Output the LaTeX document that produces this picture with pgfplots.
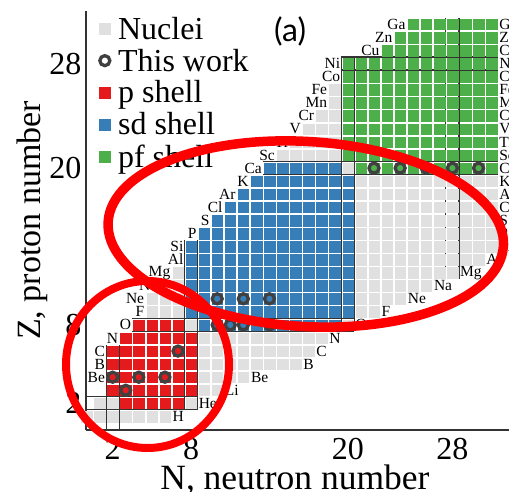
\documentclass[border=0pt]{standalone}
\usepackage{pgfplots}
\pgfplotsset{compat=1.18}
\usepackage{fontspec}
\setmainfont{Liberation Serif}
\newfontfamily\afont{Lato}
\definecolor{cgray}{HTML}{E0E0E0}
\definecolor{cred}{HTML}{E41A1C}
\definecolor{cblue}{HTML}{377EB8}
\definecolor{cgreen}{HTML}{4DAF4A}
\definecolor{cline}{HTML}{333333}
\definecolor{ccirc}{HTML}{404040}
\newcommand{\el}[3]{\node[anchor=east,inner sep=1pt,font=\fontsize{15.5}{16}\selectfont] at (axis cs:#1-0.5,#2) {#3};}
\newcommand{\er}[3]{\node[anchor=west,inner sep=1pt,font=\fontsize{15.5}{16}\selectfont] at (axis cs:#1+0.5,#2) {#3};}
\pgfplotsset{
  cell/.style={only marks,mark=square*,mark size=5.25pt,mark options={draw=#1,fill=#1,line width=0.2pt}},
  circ/.style={only marks,mark=o,mark size=5pt,mark options={draw=ccirc,line width=3.3pt,fill=none}},
}
\begin{document}
\begin{tikzpicture}[x=1pt,y=1pt]
\path[use as bounding box] (0,0) rectangle (509,492);
\begin{axis}[
  at={(86pt,62pt)},anchor=south west,
  scale only axis,width=423pt,height=419pt,
  xmin=-0.04,xmax=32.33,ymin=-0.04,ymax=32.02,
  axis x line*=bottom,axis y line*=left,
  axis line style={draw=cline,line width=1.1pt,-},
  xtick={2,8,20,28},ytick={2,8,20,28},
  major tick length=0pt,
  /pgf/number format/assume math mode=true,
  tick label style={font=\fontsize{32}{32}\selectfont},
  xticklabel style={yshift=-5pt},
  yticklabel style={xshift=-1pt},
  xlabel={N, neutron number},ylabel={Z, proton number},
  every axis x label/.style={at={(axis description cs:0.494,-0.119)},anchor=center,font=\fontsize{35.5}{36}\selectfont},
  every axis y label/.style={at={(axis description cs:-0.128,0.5)},anchor=center,rotate=90,font=\fontsize{34}{34}\selectfont},
  legend style={at={(axis cs:1.0,31.72)},anchor=north west,draw=none,fill=none,inner sep=0pt,outer sep=0pt,
    font=\fontsize{32}{32}\selectfont,row sep=4.2pt,
    /tikz/column 1/.style={column sep=6pt}},
  legend cell align=left,
  legend image code/.code={\draw[#1] plot coordinates {(0.3cm,0cm)};},
]
\addlegendimage{cell=cgray}
\addlegendentry{Nuclei}
\addlegendimage{circ}
\addlegendentry{This work}
\addlegendimage{cell=cred}
\addlegendentry{p shell}
\addlegendimage{cell=cblue}
\addlegendentry{sd shell}
\addlegendimage{cell=cgreen}
\addlegendentry{pf shell}

% Nuclei
\addplot[forget plot,cell=cgray] coordinates {
(0,1)(1,1)(2,1)(3,1)(4,1)(5,1)(6,1)
(1,2)(2,2)(8,2)
(9,3)(10,3)
(9,4)(10,4)(11,4)(12,4)
(9,5)(10,5)(11,5)(12,5)(13,5)(14,5)(15,5)(16,5)
(9,6)(10,6)(11,6)(12,6)(13,6)(14,6)(15,6)(16,6)(17,6)
(9,7)(10,7)(11,7)(12,7)(13,7)(14,7)(15,7)(16,7)(17,7)(18,7)
(8,8)(20,8)
(5,9)(6,9)(7,9)(21,9)(22,9)
(5,10)(6,10)(7,10)(21,10)(22,10)(23,10)(24,10)
(6,11)(7,11)(21,11)(22,11)(23,11)(24,11)(25,11)(26,11)
(7,12)(21,12)(22,12)(23,12)(24,12)(25,12)(26,12)(27,12)(28,12)
(21,13)(22,13)(23,13)(24,13)(25,13)(26,13)(27,13)(28,13)(29,13)(30,13)
(21,14)(22,14)(23,14)(24,14)(25,14)(26,14)(27,14)(28,14)(29,14)(30,14)(31,14)
(21,15)(22,15)(23,15)(24,15)(25,15)(26,15)(27,15)(28,15)(29,15)(30,15)(31,15)
(21,16)(22,16)(23,16)(24,16)(25,16)(26,16)(27,16)(28,16)(29,16)(30,16)(31,16)
(21,17)(22,17)(23,17)(24,17)(25,17)(26,17)(27,17)(28,17)(29,17)(30,17)(31,17)
(21,18)(22,18)(23,18)(24,18)(25,18)(26,18)(27,18)(28,18)(29,18)(30,18)(31,18)
(21,19)(22,19)(23,19)(24,19)(25,19)(26,19)(27,19)(28,19)(29,19)(30,19)(31,19)
(20,20)
(15,21)(16,21)(17,21)(18,21)(19,21)
(16,22)(17,22)(18,22)(19,22)
(17,23)(18,23)(19,23)
(18,24)(19,24)
(19,25)
(19,26)
};
% p shell
\addplot[forget plot,cell=cred] coordinates {
(3,2)(4,2)(5,2)(6,2)(7,2)
(2,3)(3,3)(4,3)(5,3)(6,3)(7,3)(8,3)
(2,4)(3,4)(4,4)(5,4)(6,4)(7,4)(8,4)
(2,5)(3,5)(4,5)(5,5)(6,5)(7,5)(8,5)
(2,6)(3,6)(4,6)(5,6)(6,6)(7,6)(8,6)
(3,7)(4,7)(5,7)(6,7)(7,7)(8,7)
(4,8)(5,8)(6,8)(7,8)
};
% sd shell
\addplot[forget plot,cell=cblue] coordinates {
(9,8)(10,8)(11,8)(12,8)(13,8)(14,8)(15,8)(16,8)(17,8)(18,8)(19,8)
(8,9)(9,9)(10,9)(11,9)(12,9)(13,9)(14,9)(15,9)(16,9)(17,9)(18,9)(19,9)(20,9)
(8,10)(9,10)(10,10)(11,10)(12,10)(13,10)(14,10)(15,10)(16,10)(17,10)(18,10)(19,10)(20,10)
(8,11)(9,11)(10,11)(11,11)(12,11)(13,11)(14,11)(15,11)(16,11)(17,11)(18,11)(19,11)(20,11)
(8,12)(9,12)(10,12)(11,12)(12,12)(13,12)(14,12)(15,12)(16,12)(17,12)(18,12)(19,12)(20,12)
(8,13)(9,13)(10,13)(11,13)(12,13)(13,13)(14,13)(15,13)(16,13)(17,13)(18,13)(19,13)(20,13)
(8,14)(9,14)(10,14)(11,14)(12,14)(13,14)(14,14)(15,14)(16,14)(17,14)(18,14)(19,14)(20,14)
(9,15)(10,15)(11,15)(12,15)(13,15)(14,15)(15,15)(16,15)(17,15)(18,15)(19,15)(20,15)
(10,16)(11,16)(12,16)(13,16)(14,16)(15,16)(16,16)(17,16)(18,16)(19,16)(20,16)
(11,17)(12,17)(13,17)(14,17)(15,17)(16,17)(17,17)(18,17)(19,17)(20,17)
(12,18)(13,18)(14,18)(15,18)(16,18)(17,18)(18,18)(19,18)(20,18)
(13,19)(14,19)(15,19)(16,19)(17,19)(18,19)(19,19)(20,19)
(14,20)(15,20)(16,20)(17,20)(18,20)(19,20)
};
% pf shell
\addplot[forget plot,cell=cgreen] coordinates {
(21,20)(22,20)(23,20)(24,20)(25,20)(26,20)(27,20)(28,20)(29,20)(30,20)(31,20)
(20,21)(21,21)(22,21)(23,21)(24,21)(25,21)(26,21)(27,21)(28,21)(29,21)(30,21)(31,21)
(20,22)(21,22)(22,22)(23,22)(24,22)(25,22)(26,22)(27,22)(28,22)(29,22)(30,22)(31,22)
(20,23)(21,23)(22,23)(23,23)(24,23)(25,23)(26,23)(27,23)(28,23)(29,23)(30,23)(31,23)
(20,24)(21,24)(22,24)(23,24)(24,24)(25,24)(26,24)(27,24)(28,24)(29,24)(30,24)(31,24)
(20,25)(21,25)(22,25)(23,25)(24,25)(25,25)(26,25)(27,25)(28,25)(29,25)(30,25)(31,25)
(20,26)(21,26)(22,26)(23,26)(24,26)(25,26)(26,26)(27,26)(28,26)(29,26)(30,26)(31,26)
(20,27)(21,27)(22,27)(23,27)(24,27)(25,27)(26,27)(27,27)(28,27)(29,27)(30,27)(31,27)
(20,28)(21,28)(22,28)(23,28)(24,28)(25,28)(26,28)(27,28)(28,28)(29,28)(30,28)(31,28)
(23,29)(24,29)(25,29)(26,29)(27,29)(28,29)(29,29)(30,29)(31,29)
(24,30)(25,30)(26,30)(27,30)(28,30)(29,30)(30,30)(31,30)
(25,31)(26,31)(27,31)(28,31)(29,31)(30,31)(31,31)
};
% magic-number lines
\pgfplotsset{magic/.style={forget plot,draw=cline,line width=1.2pt}}
\addplot[magic] coordinates {(1.5,-0.04)(1.5,6.5)};
\addplot[magic] coordinates {(2.5,-0.04)(2.5,6.5)};
\addplot[magic] coordinates {(7.5,1.5)(7.5,14.5)};
\addplot[magic] coordinates {(8.5,1.5)(8.5,14.5)};
\addplot[magic] coordinates {(19.5,7.5)(19.5,28.5)};
\addplot[magic] coordinates {(20.5,7.5)(20.5,28.5)};
\addplot[magic] coordinates {(27.5,11.5)(27.5,31.5)};
\addplot[magic] coordinates {(28.5,11.5)(28.5,31.5)};
\addplot[magic] coordinates {(-0.04,1.5)(8.5,1.5)};
\addplot[magic] coordinates {(-0.04,2.5)(8.5,2.5)};
\addplot[magic] coordinates {(3.5,7.5)(20.5,7.5)};
\addplot[magic] coordinates {(3.5,8.5)(20.5,8.5)};
\addplot[magic] coordinates {(13.5,19.5)(31.5,19.5)};
\addplot[magic] coordinates {(13.5,20.5)(31.5,20.5)};
\addplot[magic] coordinates {(19.5,27.5)(31.5,27.5)};
\addplot[magic] coordinates {(19.5,28.5)(31.5,28.5)};
% This work
\addplot[forget plot,circ] coordinates {
(2,4)(3,3)(4,4)(6,4)(7,6)
(10,10)(12,10)(14,10)(10,8)(11,8)(12,8)(14,8)
(22,20)(24,20)(26,20)(28,20)(30,20)
};
% element labels, left edge
\el{2}{4}{Be}\el{2}{5}{B}\el{2}{6}{C}\el{3}{7}{N}\el{4}{8}{O}\el{5}{9}{F}\el{5}{10}{Ne}\el{6}{11}{Na}
\el{7}{12}{Mg}\el{8}{13}{Al}\el{8}{14}{Si}\el{9}{15}{P}\el{10}{16}{S}\el{11}{17}{Cl}\el{12}{18}{Ar}
\el{13}{19}{K}\el{14}{20}{Ca}\el{15}{21}{Sc}\el{16}{22}{Ti}\el{17}{23}{V}\el{18}{24}{Cr}\el{19}{25}{Mn}
\el{19}{26}{Fe}\el{20}{27}{Co}\el{20}{28}{Ni}\el{23}{29}{Cu}\el{24}{30}{Zn}\el{25}{31}{Ga}
% element labels, right edge
\er{6}{1}{H}\er{8}{2}{He}\er{10}{3}{Li}\er{12}{4}{Be}\er{16}{5}{B}\er{17}{6}{C}\er{18}{7}{N}\er{20}{8}{O}
\er{22}{9}{F}\er{24}{10}{Ne}\er{26}{11}{Na}\er{28}{12}{Mg}\er{30}{13}{Al}\er{31}{14}{Si}\er{31}{15}{P}
\er{31}{16}{S}\er{31}{17}{Cl}\er{31}{18}{Ar}\er{31}{19}{K}\er{31}{20}{Ca}\er{31}{21}{Sc}\er{31}{22}{Ti}
\er{31}{23}{V}\er{31}{24}{Cr}\er{31}{25}{Mn}\er{31}{26}{Fe}\er{31}{27}{Co}\er{31}{28}{Ni}\er{31}{29}{Cu}
\er{31}{30}{Zn}\er{31}{31}{Ga}
\node[font=\afont\fontsize{32}{32}\selectfont] at (axis cs:15.58,30.45) {(a)};
\end{axis}
% hand-drawn red outlines
\draw[red,line width=9.5pt,rotate around={-3.5:(305.75,258)}] (305.75,258) ellipse [x radius=198pt,y radius=92.5pt];
\draw[red,line width=8pt] (147.5,127.5) ellipse [x radius=81.5pt,y radius=83.5pt];
\end{tikzpicture}
\end{document}
